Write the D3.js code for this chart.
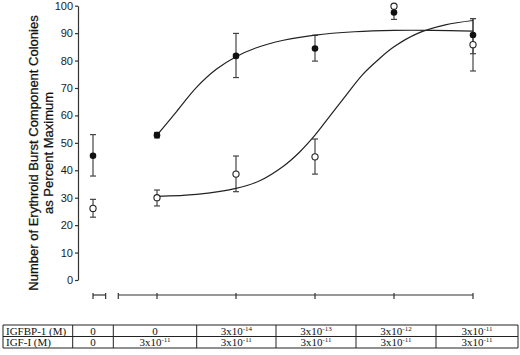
<!DOCTYPE html>
<html lang="en">
<head>
  <meta charset="UTF-8">
  <title>Erythroid burst colonies vs IGFBP-1</title>
  <style>
    body { margin: 0; background: #fff; }
    #chart { width: 520px; height: 355px; }
  </style>
</head>
<body>
  <div id="chart"></div>

  <script src="https://d3js.org/d3.v7.min.js"></script>

  <script>
    // x positions are in "condition index": 1..5 are the IGF-I conditions, control sits left of the break
    const conditions = [0.19, 1, 2, 3, 4, 5];

    const filledMean = [45.3, 52.8, 81.7, 84.4, 97.5, 89.3];
    const filledLow  = [37.9, 51.8, 73.8, 79.8, 95.0, 82.5];
    const filledHigh = [53.0, 53.8, 89.9, 89.2, 99.5, 95.3];

    const openMean = [26.1, 30.0, 38.6, 44.9, 99.8, 85.8];
    const openLow  = [22.9, 27.0, 32.2, 38.6, 99.8, 76.2];
    const openHigh = [29.4, 32.8, 45.2, 51.4, 99.8, 95.3];

    // fitted curves
    const filledCurve = [[1, 52.8], [1.25, 61.5], [1.5, 70.2], [1.75, 76.8], [2, 81.4], [2.25, 84.6],
      [2.6, 87.4], [3, 89.3], [3.5, 90.5], [4, 91.0], [4.5, 91.0], [5, 90.7]];
    const openCurve = [[1, 30.5], [1.5, 31.2], [2, 33.4], [2.3, 36.2], [2.6, 41.5],
      [2.8, 46.5], [3, 52.8], [3.2, 60.2], [3.4, 67.6], [3.6, 74.8], [3.8, 80.3],
      [4, 85], [4.3, 89.9], [4.65, 93], [5, 94.6]];

    const yTicks = [0, 10, 20, 30, 40, 50, 60, 70, 80, 90, 100];

    const rowLabels = ["IGFBP-1 (M)", "IGF-I (M)"];
    const igfbpConc = ["0", "0", "3x10^-14", "3x10^-13", "3x10^-12", "3x10^-11"];
    const igfConc   = ["0", "3x10^-11", "3x10^-11", "3x10^-11", "3x10^-11", "3x10^-11"];

    const width = 520, height = 355;

    const svg = d3.select("#chart")
      .append("svg")
      .attr("width", width)
      .attr("height", height);

    const x = d3.scaleLinear().domain([1, 5]).range([157, 473]);
    const y = d3.scaleLinear().domain([0, 100]).range([280, 5.7]);

    // y axis
    const yAxis = svg.append("g")
      .attr("transform", "translate(78,0)")
      .call(d3.axisLeft(y).tickValues(yTicks).tickSize(3).tickPadding(2).tickSizeOuter(0));
    yAxis.select(".domain").attr("stroke", "#333").attr("stroke-width", 1.2);
    yAxis.selectAll(".tick line").attr("stroke", "#333").attr("stroke-width", 1.2);
    yAxis.selectAll("text")
      .style("font-family", "'Liberation Sans', Arial, sans-serif")
      .style("font-size", "11px")
      .attr("fill", "#1a1a1a");

    // y label (two lines)
    const yLab = svg.append("text")
      .attr("transform", "translate(38,153) rotate(-90)")
      .attr("text-anchor", "middle")
      .style("font-family", "'Liberation Sans', Arial, sans-serif")
      .style("font-size", "13px")
      .attr("fill", "#111")
      .attr("stroke", "#111")
      .attr("stroke-width", 0.25);
    yLab.append("tspan").attr("x", 0).attr("dy", 0).text("Number of Erythroid Burst Component Colonies");
    yLab.append("tspan").attr("x", 0).attr("dy", 15).text("as Percent Maximum");

    // broken x axis
    const axisY = 295;
    const xAxisG = svg.append("g").attr("stroke", "#333").attr("stroke-width", 1.2);
    const segs = [[0.19, 0.35, [0.19, 0.35]], [0.51, 5, [0.51, 1, 2, 3, 4, 5]]];
    segs.forEach(([a, b, ticks]) => {
      xAxisG.append("line")
        .attr("x1", x(a)).attr("x2", x(b))
        .attr("y1", axisY).attr("y2", axisY);
      xAxisG.selectAll(null).data(ticks).join("line")
        .attr("x1", d => x(d)).attr("x2", d => x(d))
        .attr("y1", axisY - 2).attr("y2", axisY + 4);
    });

    // error bars
    function errorBars(lo, hi, cls) {
      const g = svg.append("g").attr("class", cls)
        .attr("stroke", "#444").attr("stroke-width", 1.2);
      conditions.forEach((c, i) => {
        if (hi[i] - lo[i] < 0.01) return;
        const cx = x(c);
        g.append("line").attr("x1", cx).attr("x2", cx).attr("y1", y(lo[i])).attr("y2", y(hi[i]));
        g.append("line").attr("x1", cx - 3).attr("x2", cx + 3).attr("y1", y(lo[i])).attr("y2", y(lo[i]));
        g.append("line").attr("x1", cx - 3).attr("x2", cx + 3).attr("y1", y(hi[i])).attr("y2", y(hi[i]));
      });
    }
    errorBars(filledLow, filledHigh, "err-filled");
    errorBars(openLow, openHigh, "err-open");

    // fitted curves
    const line = d3.line()
      .x(d => x(d[0]))
      .y(d => y(d[1]))
      .curve(d3.curveCatmullRom.alpha(0.5));

    svg.append("path").datum(filledCurve)
      .attr("d", line).attr("fill", "none").attr("stroke", "#222").attr("stroke-width", 1.2);
    svg.append("path").datum(openCurve)
      .attr("d", line).attr("fill", "none").attr("stroke", "#222").attr("stroke-width", 1.2);

    // points
    svg.append("g").selectAll("circle")
      .data(filledMean).join("circle")
      .attr("cx", (d, i) => x(conditions[i]))
      .attr("cy", d => y(d))
      .attr("r", 3.3)
      .attr("fill", "#111");

    svg.append("g").selectAll("circle")
      .data(openMean).join("circle")
      .attr("cx", (d, i) => x(conditions[i]))
      .attr("cy", d => y(d))
      .attr("r", 3.1)
      .attr("fill", "#fff")
      .attr("stroke", "#222")
      .attr("stroke-width", 1.1);

    // condition table
    const colEdges = [3, 72.7, 113.3, 196.7, 276, 356, 436, 518];
    const rowEdges = [325, 336.5, 348];
    const table = svg.append("g");
    table.selectAll("line.h").data(rowEdges).join("line")
      .attr("x1", colEdges[0]).attr("x2", colEdges[colEdges.length - 1])
      .attr("y1", d => d).attr("y2", d => d)
      .attr("stroke", "#222").attr("stroke-width", 1);
    table.selectAll("line.v").data(colEdges).join("line")
      .attr("x1", d => d).attr("x2", d => d)
      .attr("y1", rowEdges[0]).attr("y2", rowEdges[2])
      .attr("stroke", "#222").attr("stroke-width", 1);

    const serif = "'Liberation Serif', 'Times New Roman', serif";
    [igfbpConc, igfConc].forEach((row, r) => {
      const ty = rowEdges[r] + 9.5;
      table.append("text")
        .attr("x", colEdges[0] + 3).attr("y", ty)
        .style("font-family", serif).style("font-size", "11px").attr("fill", "#111")
        .text(rowLabels[r]);
      row.forEach((val, i) => {
        const cx = (colEdges[i + 1] + colEdges[i + 2]) / 2;
        const t = table.append("text")
          .attr("x", cx).attr("y", ty)
          .attr("text-anchor", "middle")
          .style("font-family", serif).style("font-size", "11px").attr("fill", "#111");
        const parts = val.split("^");
        t.append("tspan").text(parts[0]);
        if (parts[1]) {
          t.append("tspan").attr("dy", -4).style("font-size", "7px").text(parts[1]);
        }
      });
    });
  </script>
</body>
</html>
